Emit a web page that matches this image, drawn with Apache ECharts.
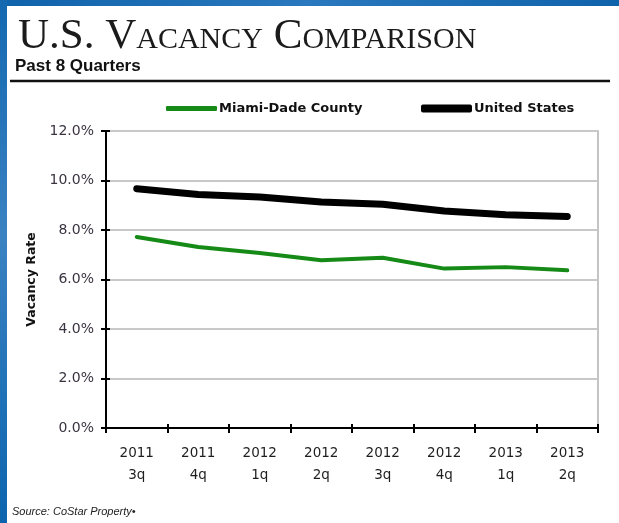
<!DOCTYPE html>
<html>
<head>
<meta charset="utf-8">
<script src="https://cdn.jsdelivr.net/npm/echarts@6/dist/echarts.min.js"></script>
<style>
  html, body { margin: 0; padding: 0; background: #fff; }
  #chart { width: 619px; height: 523px; }
</style>
</head>
<body>
<div id="chart"></div>
<script>
// Quarter labels (year over quarter)
const years = ['2011', '2011', '2012', '2012', '2012', '2012', '2013', '2013'];
const quarters = ['3q', '4q', '1q', '2q', '3q', '4q', '1q', '2q'];

// Vacancy rate, percent
const miamiDade = [7.72, 7.31, 7.07, 6.78, 6.88, 6.44, 6.50, 6.37];
const unitedStates = [9.67, 9.43, 9.33, 9.13, 9.04, 8.77, 8.62, 8.55];

// Value axis range
const yMin = 0;
const yMax = 12;
const yStep = 2;

const categories = years.map((y, i) => y + '\n' + quarters[i]);

const chart = echarts.init(document.getElementById('chart'), null, { renderer: 'canvas' });

const serif = '"Liberation Serif", "DejaVu Serif", serif';
const sans = '"DejaVu Sans", Verdana, sans-serif';

const option = {
  backgroundColor: '#ffffff',
  animation: false,
  title: {
    left: 13,
    top: 7,
    text: '{a|U.S. V}{b|ACANCY}{a| C}{b|OMPARISON}',
    textStyle: {
      rich: {
        a: { fontFamily: serif, fontWeight: 'normal', fontSize: 43, color: '#1b1b1b', verticalAlign: 'bottom', lineHeight: 46 },
        b: { fontFamily: serif, fontWeight: 'normal', fontSize: 30, color: '#1b1b1b', verticalAlign: 'bottom', lineHeight: 46, padding: [0, 0, 3, 0] }
      }
    }
  },
  graphic: [
    // page frame
    { type: 'rect', left: 0, top: 0, shape: { width: 619, height: 6 },
      style: { fill: new echarts.graphic.LinearGradient(0, 0, 1, 0, [
        { offset: 0, color: '#0f63ab' }, { offset: 0.5, color: '#2a78bd' }, { offset: 1, color: '#0f63ab' }]) } },
    { type: 'rect', left: 0, top: 0, shape: { width: 7, height: 523 },
      style: { fill: new echarts.graphic.LinearGradient(0, 0, 0, 1, [
        { offset: 0, color: '#1468b0' }, { offset: 0.45, color: '#3a82c2' }, { offset: 1, color: '#0c64ae' }]) } },
    { type: 'text', left: 15, top: 58,
      style: { text: 'Past 8 Quarters', font: 'bold 17px "Liberation Sans", Arial, sans-serif', fill: '#111' } },
    { type: 'line', shape: { x1: 10, y1: 81, x2: 610, y2: 81 },
      style: { stroke: '#111', lineWidth: 2.5 } },
    { type: 'text', left: 12, top: 506,
      style: { text: 'Source: CoStar Property\u2022', font: 'italic 11px "Liberation Sans", Arial, sans-serif', fill: '#222' } }
  ],
  legend: [
    {
      data: ['Miami-Dade County'],
      left: 161, top: 97,
      icon: 'roundRect', itemWidth: 51, itemHeight: 5,
      textStyle: { fontFamily: sans, fontWeight: 'bold', fontSize: 13, color: '#111', padding: [0, 0, 0, -3] },
      selectedMode: false
    },
    {
      data: ['United States'],
      left: 416, top: 97,
      icon: 'roundRect', itemWidth: 51, itemHeight: 8,
      textStyle: { fontFamily: sans, fontWeight: 'bold', fontSize: 13, color: '#111', padding: [0, 0, 0, -3] },
      selectedMode: false
    }
  ],
  grid: { left: 106, right: 21, top: 131, bottom: 95, containLabel: false },
  xAxis: [
    {
      type: 'category', data: categories, boundaryGap: true,
      axisLine: { show: true, lineStyle: { color: '#000', width: 2 } },
      axisTick: { show: true, interval: 0, length: 5, lineStyle: { color: '#000', width: 2 } },
      axisLabel: { interval: 0, fontFamily: sans, fontSize: 13.5, color: '#1e1e1e', lineHeight: 22, margin: 14 },
      splitLine: { show: false }
    },
    {
      type: 'category', data: categories, boundaryGap: true, position: 'bottom',
      axisLine: { show: false },
      axisTick: { show: true, inside: true, interval: 0, length: 4, lineStyle: { color: '#000', width: 2 } },
      axisLabel: { show: false },
      splitLine: { show: false }
    }
  ],
  yAxis: [
    {
      type: 'value', min: yMin, max: yMax, interval: yStep, position: 'left',
      name: 'Vacancy Rate', nameLocation: 'middle', nameRotate: 90, nameGap: 67,
      nameTextStyle: { fontFamily: sans, fontWeight: 'bold', fontSize: 12.5, color: '#111' },
      axisLine: { show: true, lineStyle: { color: '#000', width: 2 } },
      axisTick: { show: true, length: 5, lineStyle: { color: '#000', width: 2 } },
      axisLabel: { fontFamily: sans, fontSize: 14, color: '#3b3340', margin: 12,
        formatter: v => v.toFixed(1) + '%' },
      splitLine: { show: true, lineStyle: { color: '#c8c8c8', width: 2 } }
    },
    {
      type: 'value', min: yMin, max: yMax, interval: yStep, position: 'left',
      axisLine: { show: false },
      axisTick: { show: true, inside: true, length: 4, lineStyle: { color: '#000', width: 2 } },
      axisLabel: { show: false },
      splitLine: { show: false }
    },
    {
      type: 'value', min: yMin, max: yMax, interval: yStep, position: 'right',
      axisLine: { show: true, lineStyle: { color: '#c4c4c4', width: 2 } },
      axisTick: { show: false }, axisLabel: { show: false }, splitLine: { show: false }
    }
  ],
  series: [
    {
      name: 'Miami-Dade County', type: 'line', data: miamiDade,
      symbol: 'none', z: 3,
      itemStyle: { color: '#168a16' },
      lineStyle: { color: '#168a16', width: 4, cap: 'round', join: 'round' }
    },
    {
      name: 'United States', type: 'line', data: unitedStates,
      symbol: 'none', z: 4,
      itemStyle: { color: '#000' },
      lineStyle: { color: '#000', width: 7, cap: 'round', join: 'round' }
    }
  ]
};

chart.setOption(option);
</script>
</body>
</html>
